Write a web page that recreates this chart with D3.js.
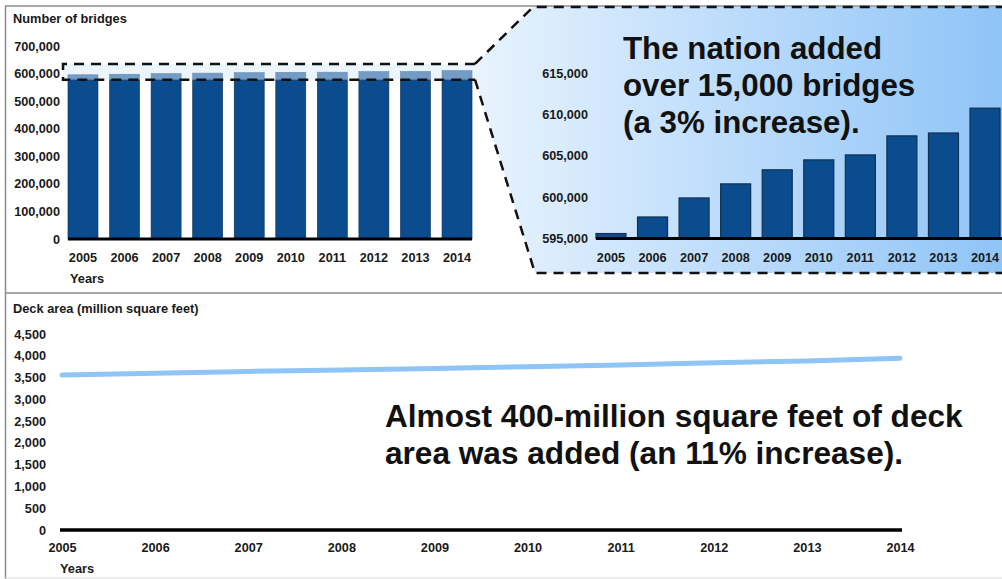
<!DOCTYPE html>
<html>
<head>
<meta charset="utf-8">
<script src="https://cdn.jsdelivr.net/npm/d3@7"></script>
<style>
  body { margin: 0; background: #fff; }
  svg { display: block; font-family: "Liberation Sans", Arial, sans-serif; }
  .tick text { font-weight: bold; font-size: 12.7px; fill: #1a1a1a; }
</style>
</head>
<body>
<svg width="1002" height="579"></svg>
<script>
const years = [2005, 2006, 2007, 2008, 2009, 2010, 2011, 2012, 2013, 2014];
const bridges = [595600, 597600, 599900, 601600, 603300, 604500, 605100, 607400, 607750, 610750];
const deckArea = [3560, 3600, 3640, 3675, 3710, 3750, 3790, 3840, 3880, 3945];
const bridgeTicks = [0, 100000, 200000, 300000, 400000, 500000, 600000, 700000];
const zoomTicks = [595000, 600000, 605000, 610000, 615000];
const deckTicks = [0, 500, 1000, 1500, 2000, 2500, 3000, 3500, 4000, 4500];

const svg = d3.select("svg");
const fmt = d3.format(",");
const darkBlue = "#0a4c8e";

// frame
svg.append("line").attr("x1", 5).attr("x2", 1002).attr("y1", 6).attr("y2", 6)
   .attr("stroke", "#8c8c8c").attr("stroke-width", 1.5);
svg.append("line").attr("x1", 5.5).attr("x2", 5.5).attr("y1", 6).attr("y2", 579)
   .attr("stroke", "#8c8c8c").attr("stroke-width", 1.5);
svg.append("line").attr("x1", 5).attr("x2", 1002).attr("y1", 293).attr("y2", 293)
   .attr("stroke", "#8c8c8c").attr("stroke-width", 1.5);
svg.append("line").attr("x1", 5).attr("x2", 1002).attr("y1", 578).attr("y2", 578)
   .attr("stroke", "#dcdcdc").attr("stroke-width", 1);

// ---------- top left: number of bridges ----------
const scX = d3.scaleBand().domain(years).range([62.2, 477.8])
              .paddingInner(0.278).paddingOuter(0.139);
const scY = d3.scaleLinear().domain([0, 700000]).range([239, 46]);

svg.append("text").attr("x", 13).attr("y", 23)
   .style("font-weight", "bold").style("font-size", "12.8px").attr("fill", "#1a1a1a")
   .text("Number of bridges");

svg.append("g").attr("transform", "translate(60,0)")
   .call(d3.axisLeft(scY).tickValues(bridgeTicks).tickFormat(fmt).tickSize(0).tickPadding(0))
   .call(g => g.select(".domain").remove());

svg.selectAll(".bar").data(years).enter().append("rect")
   .attr("x", d => scX(d))
   .attr("y", (d, i) => scY(bridges[i]))
   .attr("width", scX.bandwidth())
   .attr("height", (d, i) => scY(0) - scY(bridges[i]))
   .attr("fill", darkBlue)
   .attr("stroke", "#0d2f55").attr("stroke-width", 0.6);

// highlight box
const boxTop = scY(635000), boxBot = scY(578000);
const boxL = 63, boxR = 475;
svg.append("rect").attr("x", boxL).attr("y", boxTop)
   .attr("width", boxR - boxL).attr("height", boxBot - boxTop)
   .attr("fill", "#d9eafb").attr("opacity", 0.5);

svg.append("line").attr("x1", scX(years[0])).attr("x2", scX(years[9]) + scX.bandwidth())
   .attr("y1", scY(0)).attr("y2", scY(0))
   .attr("stroke", "#000").attr("stroke-width", 3);

svg.append("g").attr("transform", `translate(0,${scY(0)})`)
   .call(d3.axisBottom(scX).tickSize(0).tickPadding(14))
   .call(g => g.select(".domain").remove());

svg.append("text").attr("x", 70).attr("y", 283)
   .style("font-weight", "bold").style("font-size", "12.8px").attr("fill", "#1a1a1a")
   .text("Years");

// ---------- zoomed inset ----------
const defs = svg.append("defs");
const grad = defs.append("linearGradient").attr("id", "insetGrad")
   .attr("gradientUnits", "userSpaceOnUse")
   .attr("x1", 475).attr("x2", 1002).attr("y1", 0).attr("y2", 0);
grad.append("stop").attr("offset", 0).attr("stop-color", "#e8f3fe");
grad.append("stop").attr("offset", 1).attr("stop-color", "#8fc4f7");

const insetPts = [[boxR, boxTop], [533, 7], [1002, 7], [1002, 273], [535, 273], [boxR, boxBot]];
svg.append("polygon").attr("points", insetPts.map(p => p.join(",")).join(" "))
   .attr("fill", "url(#insetGrad)");

const dash = "10,7";
svg.append("path")
   .attr("d", `M${boxR},${boxTop} L533,7 L1002,7 M${boxR},${boxBot} L535,273 L1002,273`)
   .attr("fill", "none").attr("stroke", "#111").attr("stroke-width", 2.5)
   .attr("stroke-dasharray", dash);
svg.append("path")
   .attr("d", `M${boxR},${boxTop} L${boxL},${boxTop} L${boxL},${boxBot} L${boxR},${boxBot}`)
   .attr("fill", "none").attr("stroke", "#111").attr("stroke-width", 2.5)
   .attr("stroke-dasharray", dash);

const zX = d3.scaleBand().domain(years).range([590.2, 1005.8])
             .paddingInner(0.278).paddingOuter(0.139);
const zY = d3.scaleLinear().domain([595000, 615000]).range([238.5, 73]);

svg.append("g").attr("transform", "translate(588,0)")
   .call(d3.axisLeft(zY).tickValues(zoomTicks).tickFormat(fmt).tickSize(0).tickPadding(0))
   .call(g => g.select(".domain").remove());

svg.selectAll(".zbar").data(years).enter().append("rect")
   .attr("x", d => zX(d))
   .attr("y", (d, i) => zY(bridges[i]))
   .attr("width", zX.bandwidth())
   .attr("height", (d, i) => zY(595000) - zY(bridges[i]))
   .attr("fill", darkBlue)
   .attr("stroke", "#10304f").attr("stroke-width", 1.2);

svg.append("line").attr("x1", zX(years[0])).attr("x2", 1002)
   .attr("y1", zY(595000)).attr("y2", zY(595000))
   .attr("stroke", "#000").attr("stroke-width", 3);

svg.append("g").attr("transform", `translate(0,${zY(595000)})`)
   .call(d3.axisBottom(zX).tickSize(0).tickPadding(14))
   .call(g => g.select(".domain").remove());

const note1 = ["The nation added", "over 15,000 bridges", "(a 3% increase)."];
svg.append("g").selectAll("text").data(note1).enter().append("text")
   .attr("x", 623).attr("y", (d, i) => 59 + i * 37)
   .style("font-weight", "bold").style("font-size", "31.3px").attr("fill", "#111")
   .text(d => d);

// ---------- bottom: deck area ----------
const dX = d3.scaleLinear().domain([2005, 2014]).range([62, 900]);
const dY = d3.scaleLinear().domain([0, 4500]).range([530, 334]);

svg.append("text").attr("x", 13).attr("y", 313)
   .style("font-weight", "bold").style("font-size", "12.8px").attr("fill", "#1a1a1a")
   .text("Deck area (million square feet)");

svg.append("g").attr("transform", "translate(46,0)")
   .call(d3.axisLeft(dY).tickValues(deckTicks).tickFormat(fmt).tickSize(0).tickPadding(0))
   .call(g => g.select(".domain").remove());

svg.append("line").attr("x1", 60).attr("x2", 902).attr("y1", dY(0)).attr("y2", dY(0))
   .attr("stroke", "#000").attr("stroke-width", 3.5);

svg.append("g").attr("transform", `translate(0,${dY(0)})`)
   .call(d3.axisBottom(dX).tickValues(years).tickFormat(d3.format("d")).tickSize(0).tickPadding(13))
   .call(g => g.select(".domain").remove());

const line = d3.line().x((d, i) => dX(years[i])).y(d => dY(d));
svg.append("path").datum(deckArea)
   .attr("d", line)
   .attr("fill", "none").attr("stroke", "#8ec4f6").attr("stroke-width", 5)
   .attr("stroke-linecap", "round");

svg.append("text").attr("x", 60).attr("y", 573)
   .style("font-weight", "bold").style("font-size", "12.8px").attr("fill", "#1a1a1a")
   .text("Years");

const note2 = ["Almost 400-million square feet of deck", "area was added (an 11% increase)."];
svg.append("g").selectAll("text").data(note2).enter().append("text")
   .attr("x", 385).attr("y", (d, i) => 427 + i * 37)
   .style("font-weight", "bold").style("font-size", "31.6px").attr("fill", "#111")
   .text(d => d);
</script>
</body>
</html>
